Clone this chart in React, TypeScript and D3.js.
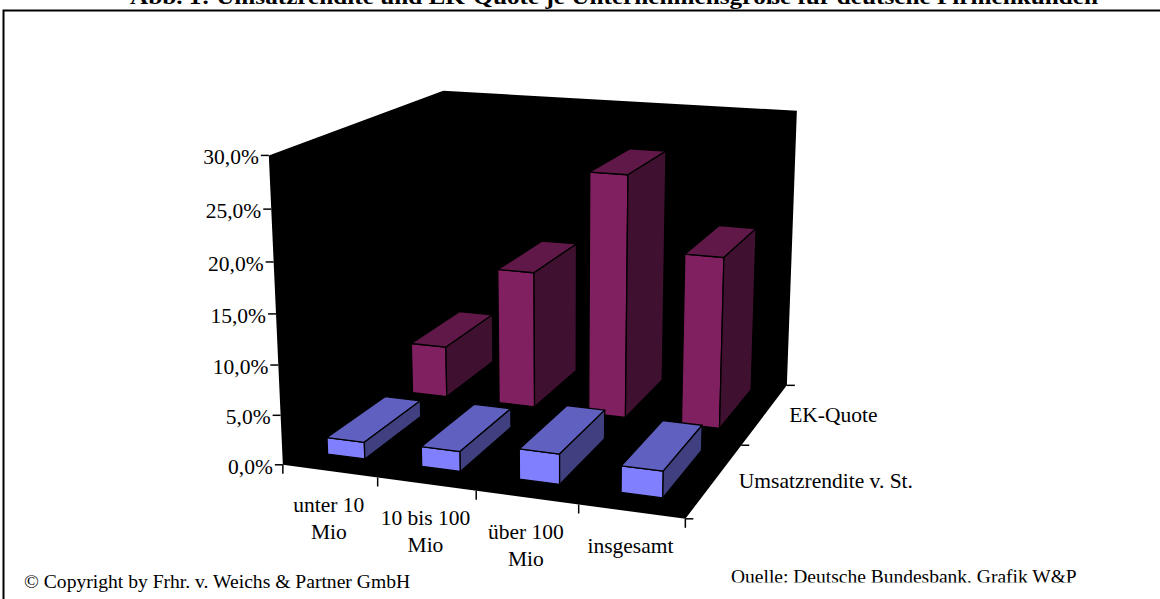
import React from "react";
import * as d3 from "d3";

const categories = ["unter 10 Mio", "10 bis 100 Mio", "über 100 Mio", "insgesamt"];
const seriesNames = ["Umsatzrendite v. St.", "EK-Quote"];
const umsatzrendite = [1.7, 2.0, 3.0, 2.6];
const ekQuote = [5.5, 14.5, 25.4, 17.8];
const valueTicks = [0, 5, 10, 15, 20, 25, 30];
const seriesValues = [umsatzrendite, ekQuote];

const width = 1160;
const height = 599;
const serif = "'Liberation Serif', serif";

// reference points of the 3D box: [u, v, w] -> pixel
const calib: [number, number, number, number, number][] = [
  [0, 0, 0, 283, 465],
  [1, 0, 0, 685, 519],
  [1, 1, 0, 787, 385],
  [0, 0, 1, 269, 155],
  [0, 1, 1, 443, 91],
  [1, 1, 1, 797, 111],
];

// least squares fit of x = (a u + b v + c w + d) / (g u + h v + i w + 1)
function solve(A: number[][], b: number[]) {
  const n = A[0].length;
  const m = d3.range(n).map((r) =>
    d3.range(n + 1).map((c) =>
      d3.sum(A, (row, k) => row[r] * (c < n ? row[c] : b[k]))
    )
  );
  for (let i = 0; i < n; i++) {
    let p = i;
    for (let r = i + 1; r < n; r++) if (Math.abs(m[r][i]) > Math.abs(m[p][i])) p = r;
    [m[i], m[p]] = [m[p], m[i]];
    for (let r = 0; r < n; r++) {
      if (r === i) continue;
      const f = m[r][i] / m[i][i];
      for (let c = i; c <= n; c++) m[r][c] -= f * m[i][c];
    }
  }
  return m.map((row, i) => row[n] / row[i]);
}

const rows: number[][] = [];
const rhs: number[] = [];
calib.forEach(([u, v, w, x, y]) => {
  rows.push([u, v, w, 1, 0, 0, 0, 0, -u * x, -v * x, -w * x]);
  rhs.push(x);
  rows.push([0, 0, 0, 0, u, v, w, 1, -u * y, -v * y, -w * y]);
  rhs.push(y);
});
const k = solve(rows, rhs);

function project(u: number, v: number, w: number): [number, number] {
  const d = k[8] * u + k[9] * v + k[10] * w + 1;
  return [
    (k[0] * u + k[1] * v + k[2] * w + k[3]) / d,
    (k[4] * u + k[5] * v + k[6] * w + k[7]) / d,
  ];
}

const xBand = d3.scaleBand().domain(categories).range([0, 1]).paddingInner(0.6).paddingOuter(0.3).align(0.45);
const xOuter = d3.scaleBand().domain(categories).range([0, 1]);
const depthBand = d3.scaleBand().domain(seriesNames).range([0, 1]).paddingInner(0.34).paddingOuter(0.17).align(0.6);
const depthOuter = d3.scaleBand().domain(seriesNames).range([0, 1]);
const valueScale = d3.scaleLinear().domain([0, 30]).range([0, 1]);

const poly = (pts: [number, number][]) => (d3.line()(pts) ?? "") + "Z";

function Bar({ cat, ser, value, colors }: { cat: string; ser: string; value: number; colors: string[] }) {
  const u0 = xBand(cat) ?? 0;
  const u1 = u0 + xBand.bandwidth();
  const v0 = depthBand(ser) ?? 0;
  const v1 = v0 + depthBand.bandwidth();
  const w = valueScale(value);
  const faces = [
    { fill: colors[0], pts: [project(u0, v0, 0), project(u1, v0, 0), project(u1, v0, w), project(u0, v0, w)] },
    { fill: colors[1], pts: [project(u0, v0, w), project(u1, v0, w), project(u1, v1, w), project(u0, v1, w)] },
    { fill: colors[2], pts: [project(u1, v0, 0), project(u1, v1, 0), project(u1, v1, w), project(u1, v0, w)] },
  ];
  return (
    <g>
      {faces.map((f, i) => (
        <path key={i} d={poly(f.pts as [number, number][])} fill={f.fill} stroke="#000" strokeWidth={1.3} strokeLinejoin="round" />
      ))}
    </g>
  );
}

const seriesColors = [
  ["#8080ff", "#6060c0", "#404080"],
  ["#802060", "#601848", "#401030"],
];

const axisText = { fontFamily: serif, fontSize: 21.5, fill: "#000" };
const catLabels = [["unter 10", "Mio"], ["10 bis 100", "Mio"], ["über 100", "Mio"], ["insgesamt"]];

export default function App() {
  const wall = [project(0, 0, 0), project(0, 0, 1), project(0, 1, 1), project(1, 1, 1), project(1, 1, 0), project(1, 0, 0)];
  return (
    <svg width={width} height={height} style={{ position: "absolute", left: 0, top: 0, background: "#fff" }}>
      <defs>
        <clipPath id="sourceClip">
          <rect x={700} y={560} width={420} height={22.5} />
        </clipPath>
      </defs>
      <text x={130} y={4} textLength={968} lengthAdjust="spacingAndGlyphs" fontFamily={serif} fontWeight="bold" fontSize={22}>
        Abb. 1: Umsatzrendite und EK-Quote je Unternehmensgröße für deutsche Firmenkunden
      </text>
      <path d={`M3.5,${height}V10.5H${width}`} fill="none" stroke="#000" strokeWidth={2} />
      <path d={poly(wall)} fill="#000" />

      {valueTicks.map((t) => {
        const [x, y] = project(0, 0, valueScale(t));
        return (
          <g key={t}>
            <line x1={x - 8} x2={x} y1={y} y2={y} stroke="#000" strokeWidth={1.5} />
            <text x={x - 10} y={y + 9} textAnchor="end" {...axisText}>
              {d3.format(".1f")(t).replace(".", ",")}%
            </text>
          </g>
        );
      })}

      {d3.range(categories.length + 1).map((i) => {
        const [x, y] = project(i * xOuter.bandwidth(), 0, 0);
        return <line key={i} x1={x} x2={x} y1={y} y2={y + 9} stroke="#000" strokeWidth={1.5} />;
      })}
      {categories.map((c, i) => {
        const [x, y] = project((xOuter(c) ?? 0) + xOuter.bandwidth() / 2, 0, 0);
        return (
          <text key={c} textAnchor="middle" {...axisText}>
            {catLabels[i].map((line, j) => (
              <tspan key={j} x={x - 1} y={y + 41 + j * 27}>{line}</tspan>
            ))}
          </text>
        );
      })}

      {d3.range(seriesNames.length + 1).map((i) => {
        const [x, y] = project(1, i * depthOuter.bandwidth(), 0);
        return <line key={i} x1={x} x2={x + 8} y1={y} y2={y} stroke="#000" strokeWidth={1.5} />;
      })}
      {seriesNames.map((s) => {
        const [x, y] = project(1, (depthOuter(s) ?? 0) + depthOuter.bandwidth() / 2, 0);
        return (
          <text key={s} x={x + 24} y={y + 8} {...axisText}>{s}</text>
        );
      })}

      {[1, 0].map((si) =>
        categories.map((c, ci) => (
          <Bar key={si + c} cat={c} ser={seriesNames[si]} value={seriesValues[si][ci]} colors={seriesColors[si]} />
        ))
      )}

      <text x={24} y={588} {...axisText} fontSize={19.6}>© Copyright by Frhr. v. Weichs &amp; Partner GmbH</text>
      <g clipPath="url(#sourceClip)">
        <text x={731} y={583} {...axisText} fontSize={19.5}>Quelle: Deutsche Bundesbank, Grafik W&amp;P</text>
      </g>
    </svg>
  );
}
